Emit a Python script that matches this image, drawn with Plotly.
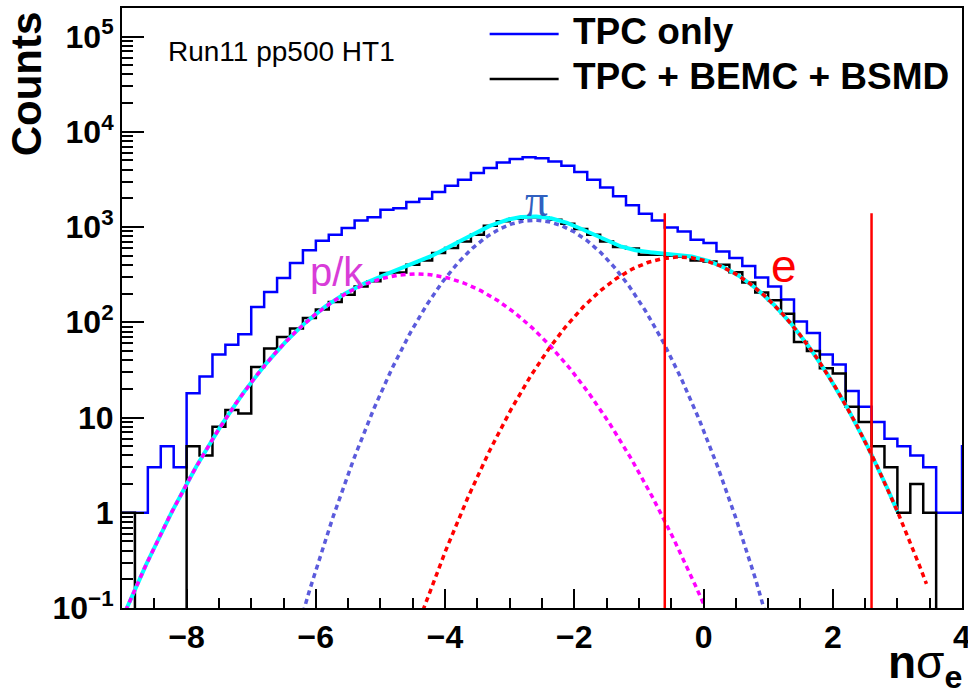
import numpy as np
import plotly.graph_objects as go

# n sigma_e histograms: 0.2 wide bins starting at -9 (last bin lies past the axis edge)
bin_low = -9.0
bin_width = 0.2

tpc_only = [1, 1, 3, 5, 3, 18, 27, 46, 58, 75,
            145, 208, 292, 419, 569, 720, 830, 975, 1170, 1270,
            1520, 1580, 1830, 1980, 2330, 2710, 3130, 3690, 4160, 4770,
            5170, 5420, 5290, 4880, 4400, 3780, 3130, 2600, 2100, 1690,
            1380, 1170, 990, 900, 736, 680, 555, 473, 390, 296,
            238, 173, 102, 77, 46, 36, 19, 13, 9, 6,
            5, 4, 3, 1, 1, 5]

tpc_bemc_bsmd = [1, 0, 0, 0, 0, 5, 4, 8, 12, 11,
                 34, 53, 70, 86, 111, 136, 163, 195, 238, 269,
                 329, 334, 402, 446, 534, 602, 707, 830, 1030, 1150,
                 1220, 1270, 1270, 1190, 1080, 953, 830, 707, 617, 597,
                 512, 512, 500, 492, 446, 435, 402, 335, 262, 206,
                 170, 123, 62, 50, 33, 29, 13, 9, 5, 3,
                 1, 2, 1, 0, 0, 0]

# three-Gaussian fit: hadrons (p/k), pions, electrons
fit_names = ["p/k", "pi", "e"]
fit_amp = [322.0, 1180.0, 484.0]
fit_mean = [-4.45, -2.62, -0.37]
fit_sigma = [1.114, 0.822, 0.961]
fit_xmax = [0.0, 4.0, 3.45]
total_xmax = 3.0

# electron selection window
e_cuts = [-0.6, 2.6]
cut_top = 1400

FLOOR = 1e-3  # empty bins are drawn below the visible range


def gauss(x, a, m, s):
    return a * np.exp(-0.5 * ((x - m) / s) ** 2)


def step_xy(vals):
    edges = bin_low + bin_width * np.arange(len(vals) + 1)
    y = [v if v > 0 else FLOOR for v in vals]
    return edges, y + [y[-1]]


fig = go.Figure()

ex, ey = step_xy(tpc_only)
fig.add_trace(go.Scatter(x=ex, y=ey, mode="lines", line=dict(color="#0000ff", width=2.5, shape="hv"),
                         name="TPC only", showlegend=False))
ex, ey = step_xy(tpc_bemc_bsmd)
fig.add_trace(go.Scatter(x=ex, y=ey, mode="lines", line=dict(color="#000000", width=2.5, shape="hv"),
                         name="TPC + BEMC + BSMD", showlegend=False))

dots = "5px,4px"
# pion component
xs = np.linspace(-9, fit_xmax[1], 600)
fig.add_trace(go.Scatter(x=xs, y=gauss(xs, fit_amp[1], fit_mean[1], fit_sigma[1]), mode="lines",
                         line=dict(color="#5b5bdc", width=3.5, dash=dots), showlegend=False))
# total fit
xs = np.linspace(-9, total_xmax, 800)
tot = sum(gauss(xs, a, m, s) for a, m, s in zip(fit_amp, fit_mean, fit_sigma))
fig.add_trace(go.Scatter(x=xs, y=tot, mode="lines", line=dict(color="#00ffff", width=4), showlegend=False))
# hadron component
xs = np.linspace(-9, fit_xmax[0], 600)
fig.add_trace(go.Scatter(x=xs, y=gauss(xs, fit_amp[0], fit_mean[0], fit_sigma[0]), mode="lines",
                         line=dict(color="#ff00ff", width=3.5, dash=dots), showlegend=False))
# electron component
xs = np.linspace(-9, fit_xmax[2], 600)
fig.add_trace(go.Scatter(x=xs, y=gauss(xs, fit_amp[2], fit_mean[2], fit_sigma[2]), mode="lines",
                         line=dict(color="#ff0000", width=3.5, dash=dots), showlegend=False))

for c in e_cuts:
    fig.add_trace(go.Scatter(x=[c, c], y=[0.1, cut_top], mode="lines",
                             line=dict(color="#ff0000", width=2.5), showlegend=False))

# plot-area geometry used for placing the text boxes
L, R, T, B = 122.4, 962.3, 8.3, 608.0


def xp(px):
    return (px - L) / (R - L)


def yp(py):
    return (B - py) / (B - T)


sans = "Liberation Sans"
ann = []
ann.append(dict(text="Run11 pp500 HT1", x=xp(166), y=yp(52), xref="paper", yref="paper",
                xanchor="left", yanchor="middle", showarrow=False,
                font=dict(family=sans, size=28, color="black")))
ann.append(dict(text="TPC only", x=xp(571), y=yp(32), xref="paper", yref="paper",
                xanchor="left", yanchor="middle", showarrow=False,
                font=dict(family=sans, size=37, color="black", weight="bold")))
ann.append(dict(text="TPC + BEMC + BSMD", x=xp(571), y=yp(77), xref="paper", yref="paper",
                xanchor="left", yanchor="middle", showarrow=False,
                font=dict(family=sans, size=37, color="black", weight="bold")))
ann.append(dict(text="Counts", x=xp(27), y=yp(84), xref="paper", yref="paper", textangle=-90,
                xanchor="center", yanchor="middle", showarrow=False,
                font=dict(family=sans, size=42, color="black", weight="bold")))
ann.append(dict(text="<b>n</b>σ<sub><b>e</b></sub>", x=xp(964), y=yp(665), xref="paper", yref="paper",
                xanchor="right", yanchor="middle", showarrow=False,
                font=dict(family=sans, size=46, color="black")))
# component labels in data coordinates (log axis uses log10 for y)
ann.append(dict(text="π", x=-2.58, y=3.28, xref="x", yref="y", showarrow=False,
                font=dict(family="Liberation Serif", size=46, color="#3060c0")))
ann.append(dict(text="p/k", x=-5.68, y=2.53, xref="x", yref="y", showarrow=False,
                font=dict(family=sans, size=40, color="#d83cd8")))
ann.append(dict(text="e", x=1.24, y=2.59, xref="x", yref="y", showarrow=False,
                font=dict(family=sans, size=46, color="#ff0000")))

shapes = []
for py, col in [(34.3, "#0000ff"), (79.3, "#000000")]:
    shapes.append(dict(type="line", xref="paper", yref="paper", x0=xp(490), x1=xp(559),
                       y0=yp(py), y1=yp(py), line=dict(color=col, width=2.5)))

fig.update_layout(
    width=968, height=690,
    margin=dict(l=122, r=6, t=8, b=82),
    paper_bgcolor="white", plot_bgcolor="white",
    annotations=ann, shapes=shapes, showlegend=False,
)
fig.update_xaxes(
    range=[-9, 4], showgrid=False, zeroline=False, automargin=False,
    showline=True, linecolor="black", linewidth=2, mirror=True,
    tickmode="array", tickvals=[-8, -6, -4, -2, 0, 2, 4],
    ticklabeloverflow="allow",
    ticks="inside", ticklen=19, tickwidth=2, tickcolor="black",
    tickfont=dict(family=sans, size=32, color="black", weight="bold"),
    minor=dict(dtick=0.5, ticks="inside", ticklen=10, tickwidth=1.5, tickcolor="black", showgrid=False),
)
fig.update_yaxes(
    type="log", range=[-1, 5.3], showgrid=False, zeroline=False, automargin=False,
    showline=True, linecolor="black", linewidth=2, mirror=True,
    tickmode="array", tickvals=[0.1, 1, 10, 100, 1000, 1e4, 1e5],
    ticktext=["10<sup>−1</sup>", "1", "10", "10<sup>2</sup>", "10<sup>3</sup>", "10<sup>4</sup>", "10<sup>5</sup>"],
    ticks="inside", ticklen=22, tickwidth=2, tickcolor="black",
    tickfont=dict(family=sans, size=32, color="black", weight="bold"),
    minor=dict(dtick="D1", ticks="inside", ticklen=11, tickwidth=1.5, tickcolor="black", showgrid=False),
)

fig.write_html("out.html")
